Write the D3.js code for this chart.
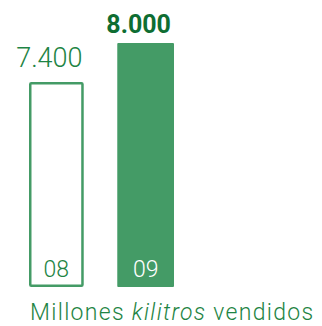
<!DOCTYPE html>
<html>
<head>
<meta charset="utf-8">
<script src="https://cdn.jsdelivr.net/npm/d3@7"></script>
<style>
  body { margin: 0; background: #fff; }
  text { font-family: Roboto, "Liberation Sans", sans-serif; }
</style>
</head>
<body>
<svg width="322" height="326"></svg>
<script>
var years = ["08", "09"];
var values = [7400, 8000];
var valueLabels = ["7.400", "8.000"];
var caption = ["Millones ", "kilitros", " vendidos"];

var svg = d3.select("svg"),
  width = +svg.attr("width"),
  height = +svg.attr("height");

var green = "#449b66",
  textGreen = "#1e8444",
  darkGreen = "#0e6d32";

var x = d3.scaleBand().domain(years).range([29, 172]).paddingInner(0.38).paddingOuter(0);

var y = d3.scaleLinear().domain([4250, 8000]).range([287, 43]);

var bars = svg.append("g").selectAll("g").data(years).enter().append("g");

// first year is an outline, second is filled
bars
  .append("rect")
  .attr("x", function (d, i) {
    return i === 0 ? x(d) + 1.25 : x(d);
  })
  .attr("y", function (d, i) {
    return i === 0 ? y(values[i]) + 1.25 : y(values[i]);
  })
  .attr("width", function (d, i) {
    return i === 0 ? x.bandwidth() - 2.5 : x.bandwidth() + 2;
  })
  .attr("height", function (d, i) {
    return i === 0 ? y.range()[0] - y(values[i]) - 2.5 : y.range()[0] - y(values[i]);
  })
  .attr("rx", 1)
  .attr("fill", function (d, i) {
    return i === 0 ? "#fff" : green;
  })
  .attr("stroke", function (d, i) {
    return i === 0 ? green : "none";
  })
  .attr("stroke-width", 2.5);

// year inside bar
bars
  .append("text")
  .attr("x", function (d, i) {
    return x(d) + x.bandwidth() / 2 + i;
  })
  .attr("y", 277)
  .attr("text-anchor", "middle")
  .attr("font-size", 23)
  .attr("font-weight", 300)
  .attr("fill", function (d, i) {
    return i === 0 ? textGreen : "#fff";
  })
  .text(function (d) {
    return d;
  });

// value over bar
bars
  .append("text")
  .attr("x", function (d, i) {
    return x(d) + x.bandwidth() / 2 - 7 + i;
  })
  .attr("y", function (d, i) {
    return i === 0 ? y(values[i]) - 15 : y(values[i]) - 10;
  })
  .attr("text-anchor", "middle")
  .attr("font-size", function (d, i) {
    return i === 0 ? 27 : 25;
  })
  .attr("font-weight", function (d, i) {
    return i === 0 ? 300 : 700;
  })
  .attr("fill", function (d, i) {
    return i === 0 ? textGreen : darkGreen;
  })
  .text(function (d, i) {
    return valueLabels[i];
  });

var cap = svg
  .append("text")
  .attr("x", 30)
  .attr("y", 320)
  .attr("font-size", 23)
  .attr("font-weight", 300)
  .attr("letter-spacing", 1.3)
  .attr("fill", textGreen);

cap
  .selectAll("tspan")
  .data(caption)
  .enter()
  .append("tspan")
  .attr("font-style", function (d, i) {
    return i === 1 ? "italic" : "normal";
  })
  .text(function (d) {
    return d;
  });
</script>
</body>
</html>
